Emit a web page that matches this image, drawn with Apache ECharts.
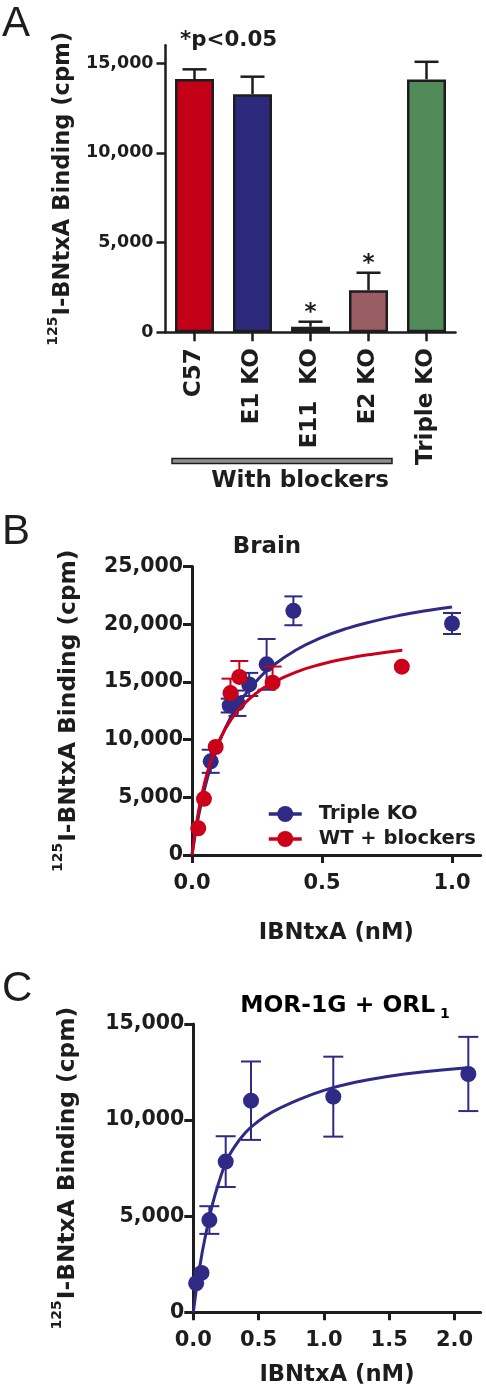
<!DOCTYPE html>
<html><head><meta charset="utf-8">
<script src="https://cdn.jsdelivr.net/npm/echarts@6/dist/echarts.min.js"></script>
<style>html,body{margin:0;padding:0;background:#fff}#c{width:486px;height:1400px}</style>
</head><body><div id="c"></div>
<script>
// ---------- Panel A data ----------
const catsA = ['C57', 'E1 KO', 'E11  KO', 'E2 KO', 'Triple KO'];
const valsA = [14120, 13270, 310, 2340, 14100];
const errA = [540, 980, 280, 980, 980];
const sigA = [false, false, true, true, false];
const colorsA = ['#C40018', '#2D2A7E', '#1E1E1E', '#9A5D63', '#528B5A'];
const ticksA = [0, 5000, 10000, 15000];

// ---------- Panel B data ----------
const tripleX = [0.072, 0.145, 0.175, 0.22, 0.287, 0.39, 1.0];
const tripleY = [8120, 12950, 13150, 14780, 16520, 21160, 20060];
const tripleErr = [1000, 600, 1100, 1000, 2200, 1250, 910];
const wtX = [0.024, 0.046, 0.091, 0.148, 0.182, 0.31, 0.807];
const wtY = [2320, 4870, 9360, 14030, 15430, 14930, 16320];
const wtErrUp = [0, 0, 0, 1250, 1380, 1400, 0];
const tripleFitX = [0, 0.025, 0.05, 0.075, 0.1, 0.15, 0.2, 0.25, 0.3, 0.4, 0.5, 0.6, 0.7, 0.8, 0.9, 1.0];
const tripleFitY = [0, 3330, 5870, 7880, 9510, 11980, 13770, 15130, 16210, 17760, 18850, 19660, 20270, 20770, 21170, 21500];
const wtFitX = [0, 0.025, 0.05, 0.075, 0.1, 0.15, 0.2, 0.25, 0.3, 0.4, 0.5, 0.6, 0.7, 0.809];
const wtFitY = [0, 3800, 6400, 8280, 9710, 11730, 13090, 14070, 14810, 15850, 16550, 17050, 17420, 17740];
const ticksBy = [0, 5000, 10000, 15000, 20000, 25000];
const ticksBx = [0, 0.5, 1.0];

// ---------- Panel C data ----------
const morX = [0.022, 0.063, 0.123, 0.248, 0.442, 1.072, 2.106];
const morY = [1510, 2050, 4800, 7840, 11010, 11220, 12400];
const morErr = [0, 0, 720, 1320, 2040, 2080, 1930];
const morFitX = [0, 0.05, 0.1, 0.15, 0.2, 0.25, 0.3, 0.4, 0.5, 0.6, 0.75, 1.0, 1.25, 1.5, 1.75, 2.1];
const morFitY = [0, 2400, 4200, 5700, 6850, 7800, 8450, 9350, 9950, 10400, 10900, 11550, 11980, 12280, 12500, 12720];
const ticksCy = [0, 5000, 10000, 15000];
const ticksCx = [0, 0.5, 1.0, 1.5, 2.0];

const FONT = "'DejaVu Sans', sans-serif";
const INK = '#1d1d1d';
const BLUE = '#2E2A86';
const RED = '#CC0018';

const chart = echarts.init(document.getElementById('c'), null, {renderer: 'canvas'});

function fmtK(v) { return v.toLocaleString('en-US'); }
function fmtD(v) { return v.toFixed(1); }

function errSeries(name, xi, yi, data, color, capW, lw, z, withSig) {
  return {
    type: 'custom', name: name, xAxisIndex: xi, yAxisIndex: yi, z: z,
    data: data, silent: true,
    renderItem: function (params, api) {
      const x = api.value(0), y = api.value(1), lo = api.value(2), hi = api.value(3);
      const pHi = api.coord([x, hi]);
      const pLo = api.coord([x, lo]);
      const ch = [];
      const st = {stroke: color, lineWidth: lw, fill: null};
      if (hi !== lo) {
        ch.push({type: 'line', shape: {x1: pLo[0], y1: pLo[1], x2: pHi[0], y2: pHi[1]}, style: st});
        ch.push({type: 'line', shape: {x1: pHi[0] - capW / 2, y1: pHi[1], x2: pHi[0] + capW / 2, y2: pHi[1]}, style: st});
        if (lo !== y) {
          ch.push({type: 'line', shape: {x1: pLo[0] - capW / 2, y1: pLo[1], x2: pLo[0] + capW / 2, y2: pLo[1]}, style: st});
        }
      }
      if (withSig && withSig[params.dataIndex]) {
        ch.push({type: 'text', x: pHi[0], y: pHi[1] - 9,
          style: {text: '*', fill: INK, font: 'bold 23px ' + FONT, textAlign: 'center', textVerticalAlign: 'middle'}});
      }
      return {type: 'group', children: ch};
    }
  };
}

function pairs(xs, ys) { return xs.map((x, i) => [x, ys[i]]); }

const axisLineA = {show: true, lineStyle: {color: INK, width: 2.5}};
const axisLineB = {show: true, lineStyle: {color: INK, width: 3}};

function nameRich(size, supSize, pad) {
  return {
    s: {fontSize: supSize, fontFamily: FONT, fontWeight: 'bold', color: INK, verticalAlign: 'bottom', padding: [0, 1, pad, 0]},
    m: {fontSize: size, fontFamily: FONT, fontWeight: 'bold', color: INK, verticalAlign: 'bottom'}
  };
}

const option = {
  animation: false,
  backgroundColor: '#ffffff',
  grid: [
    {left: 165.5, top: 45.3, width: 290, height: 287, containLabel: false, outerBoundsMode: 'none'},
    {left: 192, top: 566.5, width: 288.6, height: 288.5, containLabel: false, outerBoundsMode: 'none'},
    {left: 193.3, top: 1024, width: 287.3, height: 288.3, containLabel: false, outerBoundsMode: 'none'}
  ],
  xAxis: [
    {gridIndex: 0, type: 'category', data: catsA, boundaryGap: true,
      axisLine: axisLineA,
      axisTick: {show: true, alignWithLabel: true, length: 9, lineStyle: {color: INK, width: 2.5}},
      axisLabel: {rotate: 90, margin: 16, fontSize: 23, fontFamily: FONT, fontWeight: 'bold', color: INK}},
    {gridIndex: 1, type: 'value', min: 0, max: 1.11,
      axisLine: axisLineB, splitLine: {show: false},
      axisTick: {show: true, length: 8, customValues: ticksBx, lineStyle: {color: INK, width: 3}},
      axisLabel: {customValues: ticksBx, formatter: fmtD, margin: 18, fontSize: 21, fontFamily: FONT, fontWeight: 'bold', color: INK},
      name: 'IBNtxA (nM)', nameLocation: 'middle', nameGap: 67,
      nameTextStyle: {fontSize: 22.7, fontFamily: FONT, fontWeight: 'bold', color: INK}},
    {gridIndex: 2, type: 'value', min: 0, max: 2.2,
      axisLine: axisLineB, splitLine: {show: false},
      axisTick: {show: true, length: 8, customValues: ticksCx, lineStyle: {color: INK, width: 3}},
      axisLabel: {customValues: ticksCx, formatter: fmtD, margin: 18, fontSize: 21, fontFamily: FONT, fontWeight: 'bold', color: INK},
      name: 'IBNtxA (nM)', nameLocation: 'middle', nameGap: 51,
      nameTextStyle: {fontSize: 22.7, fontFamily: FONT, fontWeight: 'bold', color: INK}}
  ],
  yAxis: [
    {gridIndex: 0, type: 'value', min: 0, max: 16000,
      axisLine: axisLineA, splitLine: {show: false},
      axisTick: {show: true, length: 9, customValues: ticksA, lineStyle: {color: INK, width: 2.5}},
      axisLabel: {customValues: ticksA, formatter: fmtK, margin: 12, fontSize: 17.5, fontFamily: FONT, fontWeight: 'bold', color: INK},
      name: '{s|125}{m|I-BNtxA Binding (cpm)}', nameLocation: 'middle', nameRotate: 90, nameGap: 86,
      nameTextStyle: {rich: nameRich(22.6, 14, 15)}},
    {gridIndex: 1, type: 'value', min: 0, max: 25000,
      axisLine: axisLineB, splitLine: {show: false},
      axisTick: {show: true, length: 9, customValues: ticksBy, lineStyle: {color: INK, width: 3}},
      axisLabel: {customValues: ticksBy, formatter: fmtK, margin: 9, fontSize: 20.5, fontFamily: FONT, fontWeight: 'bold', color: INK},
      name: '{s|125}{m|I-BNtxA Binding (cpm)}', nameLocation: 'middle', nameRotate: 90, nameGap: 112,
      nameTextStyle: {rich: nameRich(23.3, 14, 15)}},
    {gridIndex: 2, type: 'value', min: 0, max: 15000,
      axisLine: axisLineB, splitLine: {show: false},
      axisTick: {show: true, length: 9, customValues: ticksCy, lineStyle: {color: INK, width: 3}},
      axisLabel: {customValues: ticksCy, formatter: fmtK, margin: 9, fontSize: 20.5, fontFamily: FONT, fontWeight: 'bold', color: INK},
      name: '{s|125}{m|I-BNtxA Binding (cpm)}', nameLocation: 'middle', nameRotate: 90, nameGap: 114,
      nameTextStyle: {rich: nameRich(23.3, 14, 15)}}
  ],
  legend: {
    show: true, orient: 'vertical', left: 262, top: 799, itemWidth: 33, itemHeight: 20, itemGap: 5,
    data: ['Triple KO', 'WT + blockers'],
    lineStyle: {width: 3.5, opacity: 1},
    textStyle: {fontSize: 19.5, fontFamily: FONT, fontWeight: 'bold', color: INK, padding: [0, 0, 0, 12]},
    selectedMode: false
  },
  graphic: [
    {type: 'text', x: 2, y: 3, style: {text: 'A', font: '42px "Liberation Sans", sans-serif', fill: INK}},
    {type: 'text', x: 2, y: 511, style: {text: 'B', font: '42px "Liberation Sans", sans-serif', fill: INK}},
    {type: 'text', x: 2, y: 968, style: {text: 'C', font: '42px "Liberation Sans", sans-serif', fill: INK}},
    {type: 'text', x: 180, y: 40, style: {text: '*p<0.05', font: 'bold 21.4px ' + FONT, fill: INK, textVerticalAlign: 'middle'}},
    {type: 'rect', shape: {x: 172, y: 458.5, width: 220, height: 5}, style: {fill: '#8e8e8e', stroke: INK, lineWidth: 1.5}},
    {type: 'text', x: 300, y: 481, style: {text: 'With blockers', font: 'bold 23px ' + FONT, fill: INK, textAlign: 'center', textVerticalAlign: 'middle'}},
    {type: 'text', x: 267, y: 547, style: {text: 'Brain', font: 'bold 22.9px ' + FONT, fill: INK, textAlign: 'center', textVerticalAlign: 'middle'}},
    {type: 'text', x: 345, y: 1006, style: {text: '{a|MOR-1G + ORL}{b| 1}', textAlign: 'center', textVerticalAlign: 'middle',
      rich: {a: {fontSize: 23.4, fontFamily: FONT, fontWeight: 'bold', color: INK, verticalAlign: 'bottom'},
             b: {fontSize: 14, fontFamily: FONT, fontWeight: 'bold', color: INK, verticalAlign: 'bottom', padding: [0, 0, -4, 0]}}}}
  ],
  series: [
    // Panel A
    errSeries('errA', 0, 0, valsA.map((v, i) => [i, v, v, v + errA[i]]), INK, 24, 2.5, 1, sigA),
    {type: 'bar', name: 'A', xAxisIndex: 0, yAxisIndex: 0, barWidth: 39, z: 2,
      data: valsA.map((v, i) => ({value: v, itemStyle: {color: colorsA[i], borderColor: INK, borderWidth: 2.5}}))},
    // Panel B: Triple KO
    errSeries('errTriple', 1, 1, tripleX.map((x, i) => [x, tripleY[i], tripleY[i] - tripleErr[i], tripleY[i] + tripleErr[i]]), BLUE, 18, 2, 2),
    {type: 'line', name: 'Triple KO', xAxisIndex: 1, yAxisIndex: 1, z: 3, data: pairs(tripleX, tripleY),
      symbol: 'circle', symbolSize: 16, showSymbol: true, itemStyle: {color: BLUE}, lineStyle: {color: BLUE, width: 3.5, opacity: 0}},
    {type: 'line', name: 'tripleFit', xAxisIndex: 1, yAxisIndex: 1, z: 4, data: pairs(tripleFitX, tripleFitY),
      showSymbol: false, symbol: 'none', smooth: 0.5, lineStyle: {color: BLUE, width: 3}},
    // Panel B: WT + blockers
    errSeries('errWT', 1, 1, wtX.map((x, i) => [x, wtY[i], wtY[i], wtY[i] + wtErrUp[i]]), RED, 18, 2, 5),
    {type: 'line', name: 'WT + blockers', xAxisIndex: 1, yAxisIndex: 1, z: 6, data: pairs(wtX, wtY),
      symbol: 'circle', symbolSize: 16, showSymbol: true, itemStyle: {color: RED}, lineStyle: {color: RED, width: 3.5, opacity: 0}},
    {type: 'line', name: 'wtFit', xAxisIndex: 1, yAxisIndex: 1, z: 7, data: pairs(wtFitX, wtFitY),
      showSymbol: false, symbol: 'none', smooth: 0.5, lineStyle: {color: RED, width: 3}},
    // Panel C
    errSeries('errMor', 2, 2, morX.map((x, i) => [x, morY[i], morY[i] - morErr[i], morY[i] + morErr[i]]), BLUE, 20, 2, 2),
    {type: 'line', name: 'MOR-1G + ORL1', xAxisIndex: 2, yAxisIndex: 2, z: 3, data: pairs(morX, morY),
      symbol: 'circle', symbolSize: 16, showSymbol: true, itemStyle: {color: BLUE}, lineStyle: {opacity: 0}},
    {type: 'line', name: 'morFit', xAxisIndex: 2, yAxisIndex: 2, z: 4, data: pairs(morFitX, morFitY),
      showSymbol: false, symbol: 'none', smooth: 0.5, lineStyle: {color: BLUE, width: 3}}
  ]
};
chart.setOption(option);
</script>
</body></html>
